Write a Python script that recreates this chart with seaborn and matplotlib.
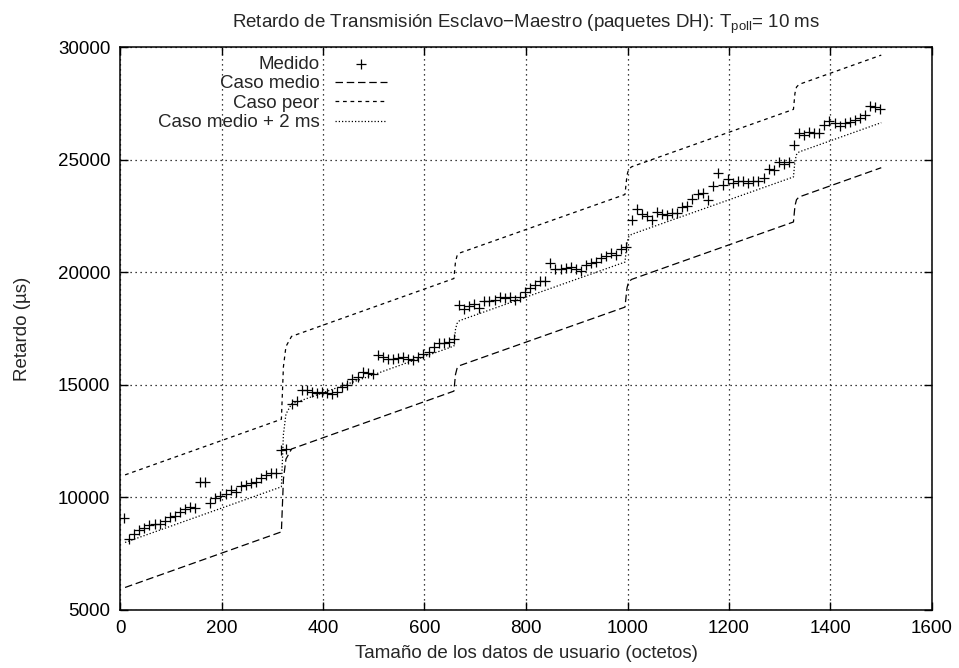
import matplotlib
matplotlib.use("Agg")
import matplotlib.pyplot as plt
import seaborn as sns
import pandas as pd

# ---- data -------------------------------------------------------------
medido_x = [8, 18, 28, 38, 48, 58, 68, 78, 88, 98,
            108, 118, 128, 138, 148, 158, 168, 178, 188, 198,
            208, 218, 228, 238, 248, 258, 268, 278, 288, 298,
            308, 318, 328, 338, 348, 358, 368, 378, 388, 398,
            408, 418, 428, 438, 448, 458, 468, 478, 488, 498,
            508, 518, 528, 538, 548, 558, 568, 578, 588, 598,
            608, 618, 628, 638, 648, 658, 668, 678, 688, 698,
            708, 718, 728, 738, 748, 758, 768, 778, 788, 798,
            808, 818, 828, 838, 848, 858, 868, 878, 888, 898,
            908, 918, 928, 938, 948, 958, 968, 978, 988, 998,
            1008, 1018, 1028, 1038, 1048, 1058, 1068, 1078, 1088, 1098,
            1108, 1118, 1128, 1138, 1148, 1158, 1168, 1178, 1188, 1198,
            1208, 1218, 1228, 1238, 1248, 1258, 1268, 1278, 1288, 1298,
            1308, 1318, 1328, 1338, 1348, 1358, 1368, 1378, 1388, 1398,
            1408, 1418, 1428, 1438, 1448, 1458, 1468, 1478, 1488, 1498]
medido_y = [9100, 8140, 8375, 8550, 8660, 8775, 8820, 8820, 8970, 9120,
            9175, 9330, 9470, 9570, 9530, 10670, 10700, 9740, 9970, 10040,
            10150, 10330, 10260, 10510, 10550, 10630, 10700, 10870, 11000, 11100,
            11070, 12100, 12150, 14150, 14300, 14770, 14770, 14700, 14650, 14690,
            14640, 14600, 14680, 14890, 15000, 15245, 15360, 15580, 15540, 15500,
            16320, 16250, 16130, 16130, 16180, 16220, 16130, 16100, 16250, 16370,
            16470, 16660, 16850, 16850, 16920, 17020, 18545, 18370, 18500, 18590,
            18400, 18735, 18735, 18765, 18915, 18840, 18885, 18765, 18915, 19100,
            19290, 19450, 19620, 19620, 20420, 20130, 20130, 20170, 20215, 20130,
            20070, 20320, 20390, 20470, 20610, 20720, 20870, 20760, 21015, 21130,
            22320, 22790, 22590, 22500, 22320, 22690, 22590, 22540, 22610, 22640,
            22880, 22940, 23240, 23470, 23500, 23210, 23830, 24390, 23870, 24130,
            23980, 24070, 24070, 23980, 24030, 24070, 24170, 24570, 24540, 24910,
            24820, 24900, 25670, 26190, 26090, 26240, 26190, 26190, 26535, 26730,
            26610, 26490, 26640, 26690, 26760, 26830, 26980, 27380, 27320, 27230]

modelo_x = [10, 318, 322, 327, 338, 658, 661, 664, 669, 995, 999, 1002, 1008,
            1327, 1330, 1333, 1338, 1500]
caso_medio = [6000, 8470, 10800, 11700, 12150, 14720, 15450, 15720, 15850,
              18450, 19300, 19560, 19680, 22230, 22950, 23220, 23340, 24640]
caso_peor = [11000, 13470, 15800, 16700, 17150, 19720, 20450, 20720, 20850,
             23450, 24300, 24560, 24680, 27230, 27950, 28220, 28340, 29640]
caso_medio_2ms = [8000, 10470, 12800, 13700, 14150, 16720, 17450, 17720, 17850,
                  20450, 21300, 21560, 21680, 24230, 24950, 25220, 25340, 26640]

x_ticks = [0, 200, 400, 600, 800, 1000, 1200, 1400, 1600]
y_ticks = [5000, 10000, 15000, 20000, 25000, 30000]

titulo = "Retardo de Transmisión Esclavo\u2212Maestro (paquetes DH): T$_{\\mathrm{poll}}$= 10 ms"
etiqueta_x = "Tamaño de los datos de usuario (octetos)"
etiqueta_y = "Retardo (\u00b5s)"

# ---- style ------------------------------------------------------------
sns.set_theme(style="white")
plt.rcParams["font.family"] = ["Liberation Sans", "DejaVu Sans"]
plt.rcParams["mathtext.fontset"] = "custom"
plt.rcParams["mathtext.rm"] = "Liberation Sans"
plt.rcParams["mathtext.it"] = "Liberation Sans:italic"
plt.rcParams["mathtext.bf"] = "Liberation Sans:bold"
FS = 13.5

fig = plt.figure(figsize=(9.59, 6.68), dpi=100)
ax = fig.add_axes([120 / 959, 1 - 610 / 668, (932 - 120) / 959, (610 - 47) / 668])

df_med = pd.DataFrame({"x": medido_x, "y": medido_y})
df_mod = pd.DataFrame({"x": modelo_x, "medio": caso_medio, "peor": caso_peor,
                       "medio2": caso_medio_2ms})

sns.scatterplot(data=df_med, x="x", y="y", ax=ax, marker="+", s=55,
                color="black", linewidth=0.9, label="Medido", zorder=5)
sns.lineplot(data=df_mod, x="x", y="medio", ax=ax, color="black", lw=0.9,
             label="Caso medio", zorder=4)
sns.lineplot(data=df_mod, x="x", y="peor", ax=ax, color="black", lw=0.9,
             label="Caso peor", zorder=4)
sns.lineplot(data=df_mod, x="x", y="medio2", ax=ax, color="black", lw=0.9,
             label="Caso medio + 2 ms", zorder=4)
lines = ax.get_lines()
lines[0].set_dashes([6, 3])
lines[1].set_dashes([3, 3])
lines[2].set_dashes([1, 1.6])

ax.set_xlim(0, 1600)
ax.set_ylim(5000, 30000)
ax.set_xticks(x_ticks)
ax.set_yticks(y_ticks)
ax.set_xticklabels([str(t) for t in x_ticks], fontsize=FS)
ax.set_yticklabels([str(t) for t in y_ticks], fontsize=FS)
ax.tick_params(direction="in", length=6, width=1, top=True, right=True,
               bottom=True, left=True, pad=7, colors="black")
ax.grid(True, color="black", linestyle=(0, (1, 3)), linewidth=0.9)
for s in ax.spines.values():
    s.set_visible(True)
    s.set_color("black")
    s.set_linewidth(1.1)

ax.set_xlabel(etiqueta_x, fontsize=FS, labelpad=6)
ax.set_ylabel(etiqueta_y, fontsize=FS, labelpad=19)
ax.set_title(titulo, fontsize=FS, pad=14)

handles, labels = ax.get_legend_handles_labels()
leg = ax.legend(handles, labels, loc="upper right",
                bbox_to_anchor=(387 / 959, 1 - 56 / 668),
                bbox_transform=fig.transFigure, frameon=False,
                markerfirst=False, fontsize=FS, handlelength=2.8,
                handletextpad=0.8, labelspacing=0.12, borderpad=0,
                borderaxespad=0)

fig.savefig("out.png", dpi=100, facecolor="white")
